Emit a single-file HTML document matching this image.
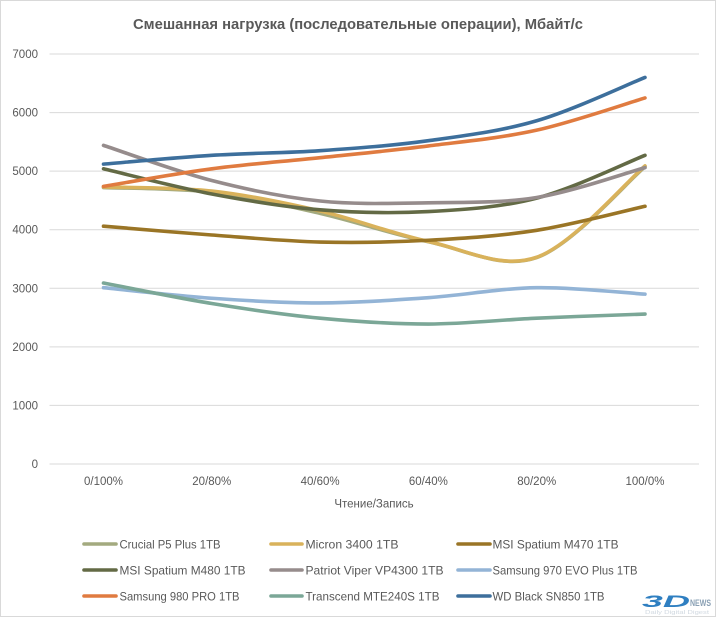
<!DOCTYPE html>
<html><head><meta charset="utf-8"><style>
html,body{margin:0;padding:0;background:#fff;}
svg{display:block;font-family:"Liberation Sans","DejaVu Sans",sans-serif;}
</style></head><body>
<svg width="717" height="617" viewBox="0 0 717 617" xmlns="http://www.w3.org/2000/svg">
<rect x="0.5" y="0.5" width="715" height="616" fill="#fff" stroke="#d9d9d9" stroke-width="1"/>
<text x="133" y="29" font-size="14.5" font-weight="bold" fill="#595959" textLength="450" lengthAdjust="spacingAndGlyphs">Смешанная нагрузка (последовательные операции), Мбайт/с</text>
<g stroke="#d9d9d9" stroke-width="1">
<line x1="49.5" y1="54" x2="699" y2="54"/>
<line x1="49.5" y1="112.57" x2="699" y2="112.57"/>
<line x1="49.5" y1="171.14" x2="699" y2="171.14"/>
<line x1="49.5" y1="229.71" x2="699" y2="229.71"/>
<line x1="49.5" y1="288.29" x2="699" y2="288.29"/>
<line x1="49.5" y1="346.86" x2="699" y2="346.86"/>
<line x1="49.5" y1="405.43" x2="699" y2="405.43"/>
<line x1="49.5" y1="464" x2="699" y2="464"/>
</g>
<g font-size="11.5" fill="#595959" text-anchor="end">
<text x="38" y="58">7000</text>
<text x="38" y="116.6">6000</text>
<text x="38" y="175.1">5000</text>
<text x="38" y="233.7">4000</text>
<text x="38" y="292.3">3000</text>
<text x="38" y="350.9">2000</text>
<text x="38" y="409.4">1000</text>
<text x="38" y="468">0</text>
</g>
<g font-size="11.5" fill="#595959" text-anchor="middle">
<text x="103.5" y="485">0/100%</text>
<text x="211.8" y="485">20/80%</text>
<text x="320.1" y="485">40/60%</text>
<text x="428.4" y="485">60/40%</text>
<text x="536.7" y="485">80/20%</text>
<text x="645" y="485">100/0%</text>
<text x="374" y="507.5">Чтение/Запись</text>
</g>
<g fill="none" stroke-width="3.6" stroke-linecap="round" stroke-linejoin="round">
<path stroke="#a3aa7f" d="M103.5,187.54 C121.55,188.32 175.7,187.93 211.8,192.23 S284,205.07 320.1,213.32 S392.3,234.35 428.4,241.72 S500.6,270.04 536.7,257.54 S626.95,181.88 645,166.75"/>
<path stroke="#d9b25b" d="M103.5,186.96 C121.55,187.64 175.7,187.06 211.8,191.06 S284,202.57 320.1,210.97 S392.3,233.72 428.4,241.43 S500.6,269.83 536.7,257.24 S626.95,181.1 645,165.87"/>
<path stroke="#9a7526" d="M103.5,226.2 C121.55,227.67 175.7,232.35 211.8,234.99 S284,241.14 320.1,242.02 S392.3,242.21 428.4,240.26 S500.6,235.96 536.7,230.3 S626.95,210.29 645,206.29"/>
<path stroke="#636a45" d="M103.5,168.8 C121.55,173 175.7,187.16 211.8,193.99 S284,206.87 320.1,209.8 S392.3,213.51 428.4,211.56 S500.6,207.46 536.7,198.09 S626.95,162.46 645,155.33"/>
<path stroke="#968c8c" d="M103.5,145.37 C121.55,151.23 175.7,171.24 211.8,180.52 S284,197.31 320.1,201.02 S392.3,203.36 428.4,202.77 S500.6,203.36 536.7,197.5 S626.95,172.61 645,167.63"/>
<path stroke="#93b4d6" d="M103.5,287.7 C121.55,289.46 175.7,295.7 211.8,298.24 S284,303.03 320.1,302.93 S392.3,300.2 428.4,297.66 S500.6,288.29 536.7,287.7 S626.95,293.07 645,294.14"/>
<path stroke="#e07b40" d="M103.5,186.37 C121.55,183.44 175.7,173.58 211.8,168.8 S284,161.48 320.1,157.67 S392.3,150.55 428.4,145.96 S500.6,138.16 536.7,130.15 S626.95,103.3 645,97.93"/>
<path stroke="#7ba797" d="M103.5,283.02 C121.55,286.44 175.7,297.66 211.8,303.52 S284,314.74 320.1,318.16 S392.3,324.02 428.4,324.02 S500.6,319.82 536.7,318.16 S626.95,314.74 645,314.06"/>
<path stroke="#3d6f9c" d="M103.5,164.12 C121.55,162.65 175.7,157.58 211.8,155.33 S284,153.09 320.1,150.65 S392.3,145.67 428.4,140.69 S500.6,131.31 536.7,120.77 S626.95,84.65 645,77.43"/>
</g>
<g stroke-width="3.6" stroke-linecap="round">
<line x1="84" y1="544" x2="116" y2="544" stroke="#a3aa7f"/>
<line x1="271" y1="544" x2="302" y2="544" stroke="#d9b25b"/>
<line x1="458" y1="544" x2="490" y2="544" stroke="#9a7526"/>
<line x1="84" y1="570" x2="116" y2="570" stroke="#636a45"/>
<line x1="271" y1="570" x2="302" y2="570" stroke="#968c8c"/>
<line x1="458" y1="570" x2="490" y2="570" stroke="#93b4d6"/>
<line x1="84" y1="596" x2="116" y2="596" stroke="#e07b40"/>
<line x1="271" y1="596" x2="302" y2="596" stroke="#7ba797"/>
<line x1="458" y1="596" x2="490" y2="596" stroke="#3d6f9c"/>
</g>
<g font-size="12" fill="#595959">
<text x="119.5" y="548.3" textLength="101" lengthAdjust="spacingAndGlyphs">Crucial P5 Plus 1TB</text>
<text x="305.5" y="548.3" textLength="93" lengthAdjust="spacingAndGlyphs">Micron 3400 1TB</text>
<text x="492.5" y="548.3" textLength="126" lengthAdjust="spacingAndGlyphs">MSI Spatium M470 1TB</text>
<text x="119.5" y="574.3" textLength="126" lengthAdjust="spacingAndGlyphs">MSI Spatium M480 1TB</text>
<text x="305.5" y="574.3" textLength="138" lengthAdjust="spacingAndGlyphs">Patriot Viper VP4300 1TB</text>
<text x="492.5" y="574.3" textLength="145" lengthAdjust="spacingAndGlyphs">Samsung 970 EVO Plus 1TB</text>
<text x="119.5" y="600.3" textLength="120" lengthAdjust="spacingAndGlyphs">Samsung 980 PRO 1TB</text>
<text x="305.5" y="600.3" textLength="134" lengthAdjust="spacingAndGlyphs">Transcend MTE240S 1TB</text>
<text x="492.5" y="600.3" textLength="112" lengthAdjust="spacingAndGlyphs">WD Black SN850 1TB</text>
</g>
<g>
<text x="642" y="607" font-size="17" font-weight="bold" font-style="italic" fill="#2f7fc1" textLength="48" lengthAdjust="spacingAndGlyphs">3D</text>
<text x="690" y="606" font-size="9" font-weight="bold" fill="#8aa0b4" textLength="21" lengthAdjust="spacingAndGlyphs">NEWS</text>
<text x="645" y="614" font-size="5" fill="#d0d8e0" textLength="64" lengthAdjust="spacingAndGlyphs">Daily Digital Digest</text>
</g>
</svg>
</body></html>
